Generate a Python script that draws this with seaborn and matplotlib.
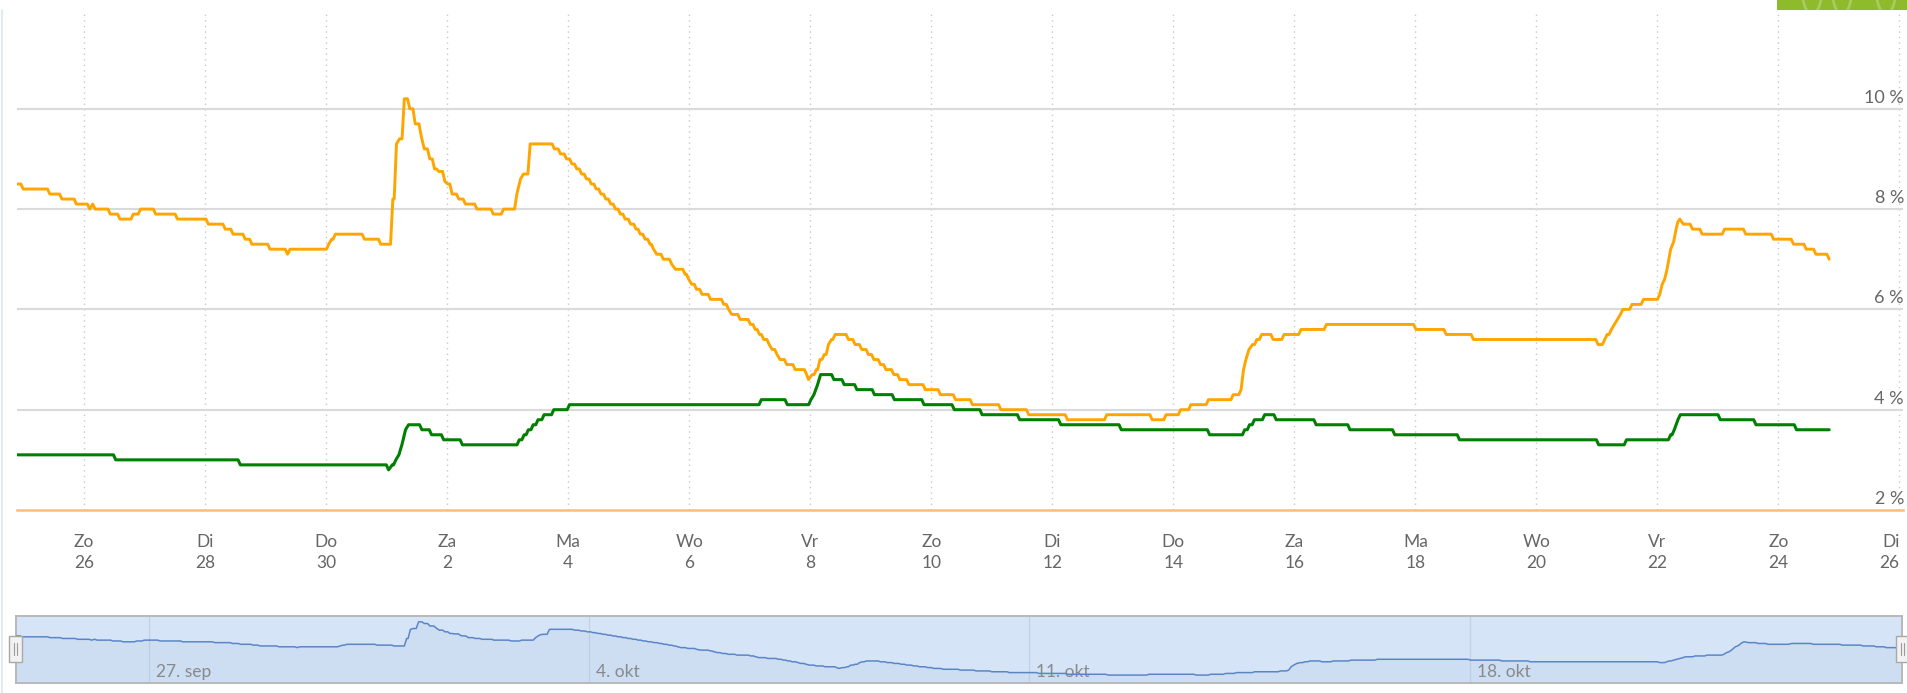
import numpy as np
import pandas as pd
import matplotlib
matplotlib.use("Agg")
import matplotlib.pyplot as plt
from matplotlib.patches import Rectangle, Arc
from matplotlib.lines import Line2D
import matplotlib.transforms as mtransforms
import seaborn as sns

# ---------------------------------------------------------------- data
BASE = pd.Timestamp("2021-09-26")

# step readings: (days after 26 Sep 00:00, percentage)
orange_days = [-1.10, -1.01, -0.57, -0.37, -0.13, 0.09, 0.14, 0.18, 0.43, 0.59,
               0.81, 0.93, 1.18, 1.54, 2.05, 2.33, 2.46, 2.66, 2.77, 3.07,
               3.36, 3.40, 4.04, 4.09, 4.15, 4.63, 4.90, 5.10, 5.16, 5.21,
               5.29, 5.38, 5.47, 5.57, 5.62, 5.71, 5.79, 5.86, 5.96, 6.01,
               6.08, 6.19, 6.30, 6.49, 6.76, 6.93, 7.15, 7.21, 7.26, 7.37,
               7.77, 7.87, 7.97, 8.06, 8.14, 8.22, 8.30, 8.38, 8.46, 8.54,
               8.62, 8.70, 8.78, 8.86, 8.94, 9.03, 9.12, 9.19, 9.27, 9.35,
               9.41, 9.46, 9.57, 9.71, 9.77, 9.93, 9.99, 10.04, 10.12, 10.21,
               10.35, 10.57, 10.65, 10.70, 10.84, 11.01, 11.09, 11.16, 11.23, 11.32,
               11.37, 11.45, 11.50, 11.61, 11.75, 11.94, 11.97, 12.03, 12.10, 12.16,
               12.23, 12.30, 12.35, 12.41, 12.63, 12.74, 12.85, 12.96, 13.05, 13.16,
               13.25, 13.38, 13.48, 13.63, 13.90, 14.15, 14.40, 14.68, 15.15, 15.61,
               16.25, 16.90, 17.65, 17.88, 18.12, 18.29, 18.58, 18.99, 19.12, 19.16,
               19.20, 19.25, 19.31, 19.38, 19.46, 19.65, 19.83, 20.11, 20.53, 22.01,
               22.51, 22.96, 25.02, 25.13, 25.17, 25.24, 25.29, 25.34, 25.39, 25.43,
               25.58, 25.77, 26.04, 26.08, 26.12, 26.16, 26.19, 26.22, 26.27, 26.31,
               26.34, 26.37, 26.43, 26.58, 26.74, 27.11, 27.46, 27.92, 28.25, 28.46,
               28.62, 28.84]
orange_vals = [8.5, 8.4, 8.3, 8.2, 8.1, 8.0, 8.1, 8.0, 7.9, 7.8,
               7.9, 8.0, 7.9, 7.8, 7.7, 7.6, 7.5, 7.4, 7.3, 7.2,
               7.1, 7.2, 7.3, 7.4, 7.5, 7.4, 7.3, 8.2, 9.3, 9.4,
               10.2, 10.0, 9.7, 9.45, 9.2, 9.0, 8.8, 8.75, 8.55, 8.5,
               8.3, 8.2, 8.1, 8.0, 7.9, 8.0, 8.3, 8.6, 8.7, 9.3,
               9.2, 9.1, 9.0, 8.9, 8.8, 8.7, 8.6, 8.5, 8.4, 8.3,
               8.2, 8.1, 8.0, 7.9, 7.8, 7.7, 7.6, 7.5, 7.4, 7.3,
               7.2, 7.1, 7.0, 6.9, 6.8, 6.7, 6.6, 6.5, 6.4, 6.3,
               6.2, 6.1, 6.0, 5.9, 5.8, 5.7, 5.6, 5.5, 5.4, 5.3,
               5.2, 5.1, 5.0, 4.9, 4.8, 4.7, 4.6, 4.7, 4.8, 5.0,
               5.1, 5.3, 5.4, 5.5, 5.4, 5.3, 5.2, 5.1, 5.0, 4.9,
               4.8, 4.7, 4.6, 4.5, 4.4, 4.3, 4.2, 4.1, 4.0, 3.9,
               3.8, 3.9, 3.8, 3.9, 4.0, 4.1, 4.2, 4.3, 4.4, 4.8,
               5.0, 5.2, 5.3, 5.4, 5.5, 5.4, 5.5, 5.6, 5.7, 5.6,
               5.5, 5.4, 5.3, 5.4, 5.5, 5.6, 5.7, 5.8, 5.9, 6.0,
               6.1, 6.2, 6.3, 6.5, 6.6, 6.8, 7.0, 7.2, 7.35, 7.6,
               7.75, 7.8, 7.7, 7.6, 7.5, 7.6, 7.5, 7.4, 7.3, 7.2,
               7.1, 7.0]

green_days = [-1.10, 0.52, 2.58, 5.03, 5.09, 5.15, 5.20, 5.25, 5.31, 5.36,
              5.58, 5.74, 5.94, 6.25, 7.19, 7.27, 7.34, 7.42, 7.50, 7.60,
              7.76, 8.02, 11.19, 11.62, 12.01, 12.06, 12.12, 12.17, 12.39, 12.56,
              12.77, 13.06, 13.39, 13.88, 14.38, 14.84, 15.46, 16.14, 17.14, 18.60,
              19.18, 19.26, 19.34, 19.51, 19.70, 20.36, 20.92, 21.66, 22.73, 25.03,
              25.49, 26.22, 26.28, 26.34, 26.38, 27.04, 27.63, 28.30, 28.84]
green_vals = [3.1, 3.0, 2.9, 2.8, 2.9, 3.0, 3.1, 3.3, 3.6, 3.7,
              3.6, 3.5, 3.4, 3.3, 3.4, 3.5, 3.6, 3.7, 3.8, 3.9,
              4.0, 4.1, 4.2, 4.1, 4.2, 4.3, 4.5, 4.7, 4.6, 4.5,
              4.4, 4.3, 4.2, 4.1, 4.0, 3.9, 3.8, 3.7, 3.6, 3.5,
              3.6, 3.7, 3.8, 3.9, 3.8, 3.7, 3.6, 3.5, 3.4, 3.3,
              3.4, 3.5, 3.6, 3.8, 3.9, 3.8, 3.7, 3.6, 3.6]

y_ticks = [2, 4, 6, 8, 10]
weekdays_nl = ["Ma", "Di", "Wo", "Do", "Vr", "Za", "Zo"]
nav_dates = ["2021-09-27", "2021-10-04", "2021-10-11", "2021-10-18"]
nav_labels = ["27. sep", "4. okt", "11. okt", "18. okt"]


def stairs(days, vals, ramp=0.9 / 24):
    """Hourly readings: hold each value, move to the next within the hour."""
    xs, ys = [], []
    for i, (d, v) in enumerate(zip(days, vals)):
        xs.append(d)
        ys.append(v)
        if i + 1 < len(days) and days[i + 1] - d > 1.6 * ramp:
            xs.append(days[i + 1] - ramp)
            ys.append(v)
    return pd.DataFrame({"time": BASE + pd.to_timedelta(xs, unit="D"), "value": ys})


def when(day):
    return BASE + pd.Timedelta(days=day)


df_orange = stairs(orange_days, orange_vals)
df_green = stairs(green_days, green_vals)

# ---------------------------------------------------------------- style
sns.set_style("white")
plt.rcParams["font.family"] = ["Lato", "DejaVu Sans"]

W, H = 1907, 693
fig = plt.figure(figsize=(W / 100, H / 100), dpi=100)
fig.patch.set_facecolor("white")


def fx(px):
    return px / W


def fy(py):
    return 1 - py / H


# ---------------------------------------------------------------- main chart
ax = fig.add_axes([fx(16.5), fy(510), fx(1903 - 16.5), (510 - 14) / H])
ax.set_facecolor("white")
ax.set_xlim(when(-1.12), when(30.06))
ax.set_ylim(2, 11.89)

tick_dates = pd.date_range("2021-09-26", "2021-10-26", freq="2D")
for d in tick_dates:
    ax.axvline(d, color="#c9c9c9", lw=1.0, ls=(0, (1, 3)), zorder=1)
for v in y_ticks[1:]:
    ax.axhline(v, color="#dadada", lw=1.5, zorder=1)

sns.lineplot(data=df_green, x="time", y="value", ax=ax, color="#008000",
             lw=2.2, estimator=None, sort=False, zorder=3,
             solid_joinstyle="round", solid_capstyle="round")
sns.lineplot(data=df_orange, x="time", y="value", ax=ax, color="#FFA500",
             lw=2.1, estimator=None, sort=False, zorder=4,
             solid_joinstyle="round", solid_capstyle="round")

for side in ["top", "right", "left"]:
    ax.spines[side].set_visible(False)
ax.spines["bottom"].set_color("#f9bd7d")
ax.spines["bottom"].set_linewidth(1.8)
ax.spines["bottom"].set_zorder(5)

ax.set_xticks(tick_dates)
ax.set_xticklabels([f"{weekdays_nl[d.weekday()]}\n{d.day}" for d in tick_dates],
                   linespacing=1.45)
ax.tick_params(axis="x", length=14, width=1, color="#c5d4e6", direction="out",
               pad=3, labelsize=12.5, labelcolor="#666666")
ax.get_xticklabels()[-1].set_ha("right")
ax.set_yticks([])
ax.set_xlabel("")
ax.set_ylabel("")

lift = mtransforms.offset_copy(ax.get_yaxis_transform(), fig=fig, x=0, y=3, units="dots")
for v in y_ticks:
    ax.text(1.0005, v, f"{v} %", transform=lift, ha="right", va="bottom",
            fontsize=13, color="#666666", zorder=6)

# ---------------------------------------------------------------- navigator
nav = fig.add_axes([fx(15.6), fy(683), fx(1902 - 15.6), (683 - 616) / H])
nav.set_facecolor("#d5e4f6")
nav.set_xlim(when(-1.116), when(28.87))
nav.set_ylim(2.85, 10.9)
for d, lab in zip(nav_dates, nav_labels):
    d = pd.Timestamp(d)
    nav.axvline(d, color="#c3d2e6", lw=1.0, zorder=1)
    nav.annotate(lab, xy=(d, 0), xycoords=("data", "axes fraction"),
                 xytext=(7, 6), textcoords="offset pixels", ha="left",
                 va="baseline", fontsize=12.5, color="#8a8a8a", zorder=2)
sns.lineplot(data=df_orange, x="time", y="value", ax=nav, color="#5b86c6",
             lw=1.1, estimator=None, sort=False, zorder=3)
nav.fill_between(df_orange["time"], df_orange["value"], 2.85,
                 color="#5b86c6", alpha=0.06, lw=0, zorder=2)
nav.set_xticks([])
nav.set_yticks([])
nav.set_xlabel("")
nav.set_ylabel("")
for side in nav.spines.values():
    side.set_color("#b8b8b8")
    side.set_linewidth(1.4)

# navigator handles
for hx in (9, 1896):
    fig.add_artist(Rectangle((fx(hx), fy(662)), fx(13), 26 / H,
                             transform=fig.transFigure, fc="#f2f2f2",
                             ec="#a8a8a8", lw=1.0, zorder=10))
    for gx in (hx + 5, hx + 8):
        fig.add_artist(Line2D([fx(gx), fx(gx)], [fy(643), fy(655)],
                              transform=fig.transFigure, color="#9a9a9a",
                              lw=0.8, zorder=11))

# ---------------------------------------------------------------- page frame
fig.add_artist(Line2D([fx(1.5), fx(1.5)], [fy(10), 0], transform=fig.transFigure,
                      color="#dde7f2", lw=1.2))
fig.add_artist(Rectangle((fx(1777), fy(10)), fx(W - 1777), 10 / H,
                         transform=fig.transFigure, fc="#8dbb2c", ec="none"))
for cx in (1812, 1842, 1886):
    fig.add_artist(Arc((fx(cx), fy(-30)), fx(24), 90 / H, theta1=230, theta2=300,
                       transform=fig.transFigure, color="white", alpha=0.25,
                       lw=2.0, clip_on=False))

fig.savefig("out.png", dpi=100, facecolor="white")
